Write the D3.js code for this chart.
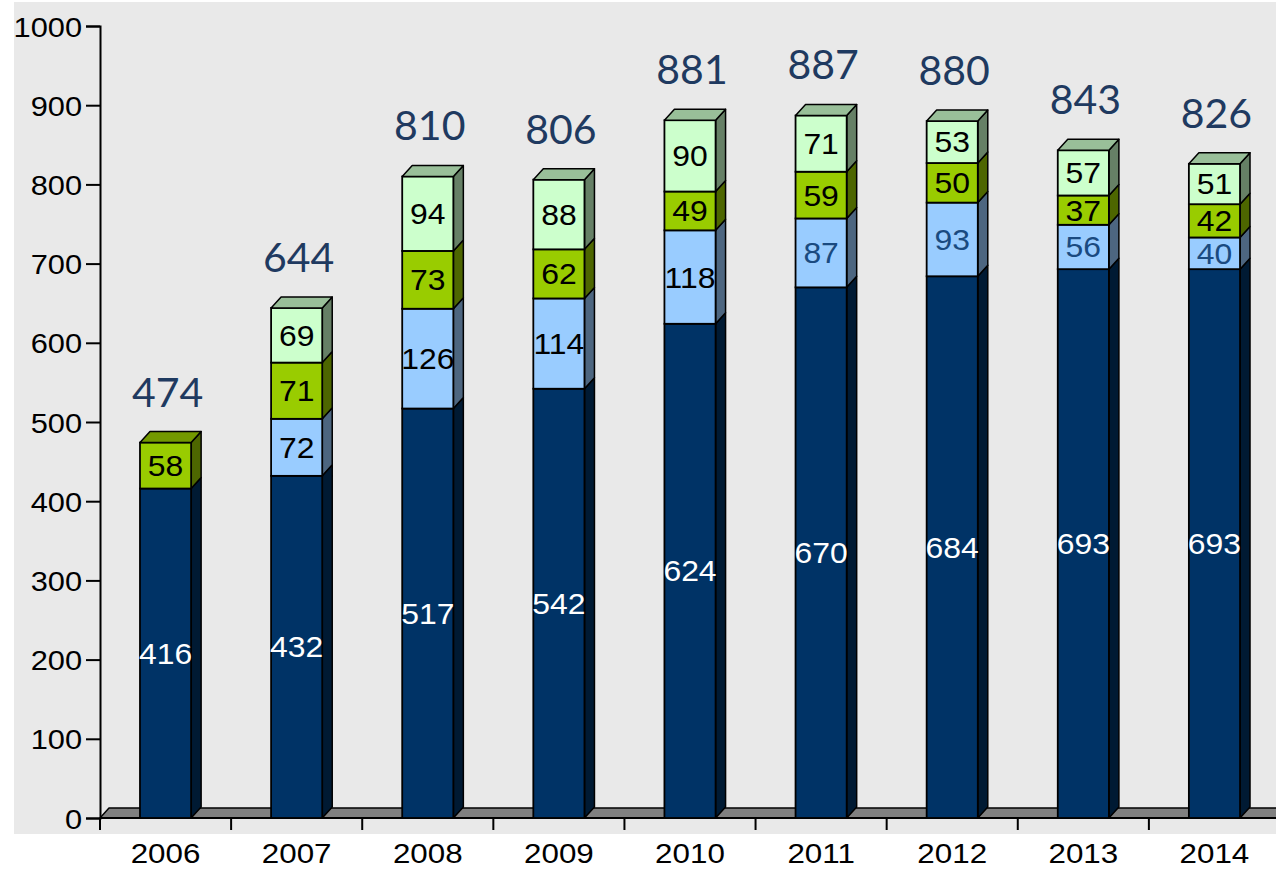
<!DOCTYPE html>
<html>
<head>
<meta charset="utf-8">
<script src="https://cdn.jsdelivr.net/npm/d3@7"></script>
<style>
  html, body { margin: 0; padding: 0; background: #fff; }
  svg { display: block; }
</style>
</head>
<body>
<div id="chart"></div>
<script>
// data
const years = ["2006", "2007", "2008", "2009", "2010", "2011", "2012", "2013", "2014"];
const seriesA = [416, 432, 517, 542, 624, 670, 684, 693, 693]; // navy
const seriesB = [0, 72, 126, 114, 118, 87, 93, 56, 40];         // light blue
const seriesC = [58, 71, 73, 62, 49, 59, 50, 37, 42];           // green
const seriesD = [0, 69, 94, 88, 90, 71, 53, 57, 51];            // light green
const totals = [474, 644, 810, 806, 881, 887, 880, 843, 826];
const yTicks = [0, 100, 200, 300, 400, 500, 600, 700, 800, 900, 1000];

const keys = ["a", "b", "c", "d"];
const colors = { a: "#003366", b: "#99ccff", c: "#99cc00", d: "#ccffcc" };
const labelColors = { a: "#ffffff", b: "#000000", c: "#000000", d: "#000000" };
const blueLabelYears = ["2011", "2012", "2013", "2014"];

const rows = years.map((y, i) => ({
  year: y, a: seriesA[i], b: seriesB[i], c: seriesC[i], d: seriesD[i], total: totals[i]
}));

const W = 1276, H = 869;
const dx = 10, dy = 11;

const svg = d3.select("#chart").append("svg")
  .attr("width", W).attr("height", H);

// plot background
svg.append("rect")
  .attr("x", 14).attr("y", 2)
  .attr("width", W - 14).attr("height", 832)
  .attr("fill", "#e9e9e9");

const x = d3.scaleBand()
  .domain(years)
  .range([100, 1280])
  .paddingInner(0.61)
  .paddingOuter(0.305);

const y = d3.scaleLinear()
  .domain([0, 1000])
  .range([818, 26]);

const bw = x.bandwidth();

// floor
const fl = 0, fr = 1280;
svg.append("path")
  .attr("d", `M${fl},${y(0)} L${fl + dx},${y(0) - dy} L${fr + dx},${y(0) - dy} L${fr},${y(0)} Z`)
  .attr("transform", "translate(100,0)")
  .attr("fill", "none");
svg.append("path")
  .attr("d", `M100,${y(0)} L${100 + dx - 1},${y(0) - dy + 1} L${1290},${y(0) - dy + 1} L1290,${y(0)} Z`)
  .attr("fill", "#808080")
  .attr("stroke", "#000")
  .attr("stroke-width", 1.5)
  .attr("stroke-linejoin", "round");

// y axis
const yAxis = d3.axisLeft(y)
  .tickValues(yTicks)
  .tickSize(14)
  .tickPadding(4)
  .tickFormat(d3.format("d"));

const yg = svg.append("g")
  .attr("transform", "translate(100,0)")
  .call(yAxis);
yg.select(".domain").attr("stroke", "#000").attr("stroke-width", 2);
yg.selectAll(".tick line").attr("stroke", "#000").attr("stroke-width", 2);
yg.selectAll(".tick text")
  .attr("fill", "#000")
  .attr("font-family", "'Liberation Sans', Arial, sans-serif")
  .attr("font-size", 28)
  .attr("dy", "0.36em")
  .attr("transform", "scale(1.1,1)")
  .attr("x", -18 / 1.1);

// x axis
const boundaries = d3.range(years.length + 1).map(i => 100 + i * x.step());
const xg = svg.append("g");
xg.append("line")
  .attr("x1", 100).attr("x2", 1280)
  .attr("y1", y(0)).attr("y2", y(0))
  .attr("stroke", "#000").attr("stroke-width", 2);
xg.selectAll("line.tick")
  .data(boundaries)
  .enter().append("line")
  .attr("class", "tick")
  .attr("x1", d => d).attr("x2", d => d)
  .attr("y1", y(0)).attr("y2", y(0) + 12)
  .attr("stroke", "#000").attr("stroke-width", 2);
xg.selectAll("text")
  .data(years)
  .enter().append("text")
  .text(d => d)
  .attr("transform", d => `translate(${x(d) + bw / 2},863) scale(1.12,1)`)
  .attr("text-anchor", "middle")
  .attr("font-family", "'Liberation Sans', Arial, sans-serif")
  .attr("font-size", 28)
  .attr("fill", "#000");

// stacked 3D bars
const stack = d3.stack().keys(keys);
const layers = stack(rows);

const shade = (c, k) => {
  const r = d3.rgb(c);
  return d3.rgb(r.r * k, r.g * k, r.b * k).formatHex();
};

const bars = svg.append("g");

rows.forEach((row, i) => {
  const x0 = x(row.year);
  const g = bars.append("g");
  let topKey = null;
  layers.forEach(layer => {
    const seg = layer[i];
    const k = layer.key;
    if (seg[1] - seg[0] <= 0) return;
    topKey = k;
    const yb = y(seg[0]), yt = y(seg[1]);
    // side
    g.append("path")
      .attr("d", `M${x0 + bw},${yb} L${x0 + bw + dx},${yb - dy} L${x0 + bw + dx},${yt - dy} L${x0 + bw},${yt} Z`)
      .attr("fill", shade(colors[k], 0.5))
      .attr("stroke", "#000").attr("stroke-width", 1.5)
      .attr("stroke-linejoin", "round");
    // front
    g.append("rect")
      .attr("x", x0).attr("y", yt)
      .attr("width", bw).attr("height", yb - yt)
      .attr("fill", colors[k])
      .attr("stroke", "#000").attr("stroke-width", 1.8);
  });
  // top face
  const yt = y(row.total);
  g.append("path")
    .attr("d", `M${x0},${yt} L${x0 + dx},${yt - dy} L${x0 + bw + dx},${yt - dy} L${x0 + bw},${yt} Z`)
    .attr("fill", shade(colors[topKey], 0.75))
    .attr("stroke", "#000").attr("stroke-width", 1.5)
    .attr("stroke-linejoin", "round");

  // segment labels
  layers.forEach(layer => {
    const seg = layer[i];
    const k = layer.key;
    const v = seg[1] - seg[0];
    if (v <= 0) return;
    let col = labelColors[k];
    if (k === "b" && blueLabelYears.includes(row.year)) col = "#1a4a80";
    g.append("text")
      .text(v)
      .attr("transform", `translate(${x0 + bw / 2},${(y(seg[0]) + y(seg[1])) / 2}) scale(1.1,1)`)
      .attr("dy", "0.36em")
      .attr("text-anchor", "middle")
      .attr("font-family", "'Liberation Sans', Arial, sans-serif")
      .attr("font-size", 29)
      .attr("fill", col);
  });

  // total label
  svg.append("text")
    .text(row.total)
    .attr("x", x0 + bw / 2 + 2)
    .attr("y", yt - 36)
    .attr("text-anchor", "middle")
    .attr("font-family", "Lato, 'Open Sans', sans-serif")
    .attr("font-size", 41)
    .attr("fill", "#1f3a60");
});
</script>
</body>
</html>
